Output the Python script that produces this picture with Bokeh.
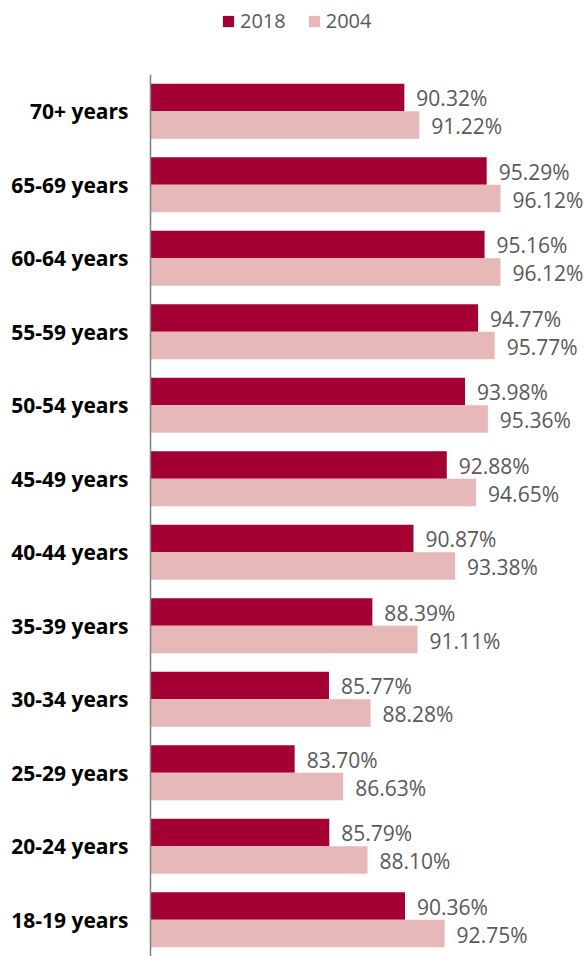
from bokeh.plotting import figure
from bokeh.models import ColumnDataSource, Range1d, Legend, LegendItem, FixedTicker
from bokeh.embed import file_html
from bokeh.resources import INLINE
from bokeh.core.properties import value

categories = ["70+ years", "65-69 years", "60-64 years", "55-59 years", "50-54 years",
              "45-49 years", "40-44 years", "35-39 years", "30-34 years", "25-29 years",
              "20-24 years", "18-19 years"]
values_2018 = [90.32, 95.29, 95.16, 94.77, 93.98, 92.88, 90.87, 88.39, 85.77, 83.70, 85.79, 90.36]
values_2004 = [91.22, 96.12, 96.12, 95.77, 95.36, 94.65, 93.38, 91.11, 88.28, 86.63, 88.10, 92.75]
series_names = ["2018", "2004"]
colors = ["#A50034", "#E6B8B7"]

n = len(categories)
pos = [n - 1 - i for i in range(n)]  # first category at top
bw = 0.375

src = ColumnDataSource(dict(
    cat=categories,
    y18=[y + bw / 2 for y in pos],
    y04=[y - bw / 2 for y in pos],
    v2018=values_2018,
    v2004=values_2004,
    l2018=[f"{v:.2f}%" for v in values_2018],
    l2004=[f"{v:.2f}%" for v in values_2004],
))

W, H = 584, 956
left_border = 150
pitch = 73.5
top_units = (H - n * pitch) / pitch

p = figure(width=W, height=H, output_backend="svg", toolbar_location=None,
           y_range=Range1d(-0.5, n - 0.5 + top_units),
           x_range=Range1d(75, 75 + (W - left_border) / 16.57),
           min_border_left=left_border, min_border_right=0, min_border_top=0,
           min_border_bottom=0)

r1 = p.hbar(y="y18", left=75, right="v2018", height=bw, source=src,
            fill_color=colors[0], line_color=None)
r2 = p.hbar(y="y04", left=75, right="v2004", height=bw, source=src,
            fill_color=colors[1], line_color=None)

font = value("Open Sans")
p.text(x="v2018", y="y18", text="l2018", source=src, x_offset=12, y_offset=1,
       text_baseline="middle", text_align="left", text_font=font,
       text_font_size="21px", text_color="#595959")
p.text(x="v2004", y="y04", text="l2004", source=src, x_offset=12, y_offset=1,
       text_baseline="middle", text_align="left", text_font=font,
       text_font_size="21px", text_color="#595959")

legend = Legend(items=[LegendItem(label=series_names[0], renderers=[r1]),
                       LegendItem(label=series_names[1], renderers=[r2])],
                orientation="horizontal", location=(71, H - 8 - 26),
                label_text_font="Open Sans", label_text_font_size="20px",
                label_text_color="#595959", glyph_width=14, glyph_height=14,
                label_height=20, label_standoff=5, spacing=21, padding=3,
                margin=0, border_line_color=None, background_fill_alpha=0)
p.add_layout(legend, "center")

p.xaxis.visible = False
p.xgrid.visible = False
p.ygrid.visible = False
p.outline_line_color = None
p.yaxis.ticker = FixedTicker(ticks=pos)
p.yaxis.major_label_overrides = {y: c for y, c in zip(pos, categories)}
p.yaxis.bounds = (-0.5, n - 0.5)
p.yaxis.major_tick_line_color = None
p.yaxis.minor_tick_line_color = None
p.yaxis.axis_line_color = "#808080"
p.yaxis.axis_line_width = 1.5
p.yaxis.major_label_text_font = "Open Sans"
p.yaxis.major_label_text_font_style = "bold"
p.yaxis.major_label_text_font_size = "21px"
p.yaxis.major_label_text_color = "#000000"
p.yaxis.major_label_standoff = 16

open("out.html", "w").write(file_html(p, INLINE))
